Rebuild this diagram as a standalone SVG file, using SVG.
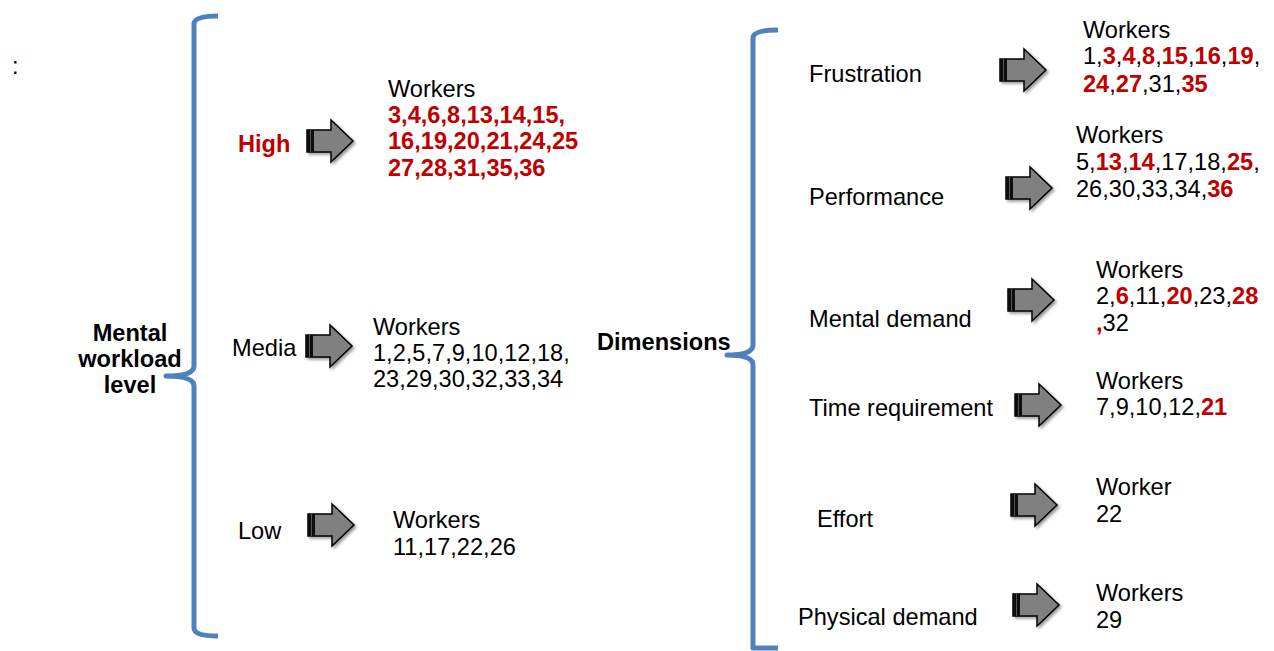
<svg xmlns="http://www.w3.org/2000/svg" width="1274" height="651" viewBox="0 0 1274 651">
<defs>
<style>
text{font-family:"Liberation Sans",Arial,sans-serif;font-size:23.6px;fill:#000}
.b{font-weight:bold}
.r{fill:#c00000;font-weight:bold}
.br{fill:none;stroke:#4f81bd;stroke-width:5;stroke-linejoin:round}
</style>
<filter id="sh" x="-20%" y="-20%" width="150%" height="150%">
<feGaussianBlur in="SourceAlpha" stdDeviation="1.5"/>
<feOffset dx="2" dy="2" result="o"/>
<feComponentTransfer><feFuncA type="linear" slope="0.4"/></feComponentTransfer>
<feMerge><feMergeNode/><feMergeNode in="SourceGraphic"/></feMerge>
</filter>
<g id="arr" filter="url(#sh)">
<path d="M0,-11 L24,-11 L24,-21 L46,0 L24,21 L24,11 L0,11 Z" fill="#808080" stroke="#000" stroke-width="1.5" stroke-linejoin="miter"/>
<rect x="0" y="-11" width="7" height="22" fill="#111"/>
<line x1="3.5" y1="-11" x2="3.5" y2="11" stroke="#555" stroke-width="1"/>
</g>
</defs>
<rect width="1274" height="651" fill="#fff"/>
<text x="12" y="74">:</text>

<g id="connectors">
<use href="#arr" x="307" y="141"/>
<use href="#arr" x="306" y="346"/>
<use href="#arr" x="308" y="525"/>
<use href="#arr" x="1000" y="70"/>
<use href="#arr" x="1006" y="188"/>
<use href="#arr" x="1008" y="300"/>
<use href="#arr" x="1015" y="405"/>
<use href="#arr" x="1011" y="505"/>
<use href="#arr" x="1013" y="605"/>
</g>

<g id="bracket-left">
<path class="br" d="M218,16 Q194,16 194,24 L194,366 Q194,376 166,376 Q194,376 194,386 L194,628 Q194,636 218,636"/>
</g>
<g id="bracket-right">
<path class="br" d="M778,30 Q753,30 753,38 L753,345 Q753,355 727,355 Q753,355 753,365 L753,648 L778,648"/>
</g>

<g id="mental-workload-level">
<text class="b" x="130" y="341" text-anchor="middle">Mental</text>
<text class="b" x="130" y="367" text-anchor="middle">workload</text>
<text class="b" x="130" y="393" text-anchor="middle">level</text>
</g>

<g id="high">
<text class="r" x="238" y="152">High</text>
<text x="388" y="97">Workers</text>
<text class="r" x="388" y="123">3,4,6,8,13,14,15,</text>
<text class="r" x="388" y="149">16,19,20,21,24,25</text>
<text class="r" x="388" y="176">27,28,31,35,36</text>
</g>

<g id="media">
<text x="232" y="356">Media</text>
<text x="373" y="335">Workers</text>
<text x="373" y="361">1,2,5,7,9,10,12,18,</text>
<text x="373" y="387">23,29,30,32,33,34</text>
</g>

<g id="low">
<text x="238" y="539">Low</text>
<text x="393" y="528">Workers</text>
<text x="393" y="555">11,17,22,26</text>
</g>

<g id="dimensions">
<text class="b" x="597" y="350">Dimensions</text>
</g>

<g id="frustration">
<text x="809" y="82">Frustration</text>
<text x="1083" y="38">Workers</text>
<text x="1083" y="64">1,<tspan class="r">3</tspan>,<tspan class="r">4</tspan>,<tspan class="r">8</tspan>,<tspan class="r">15</tspan>,<tspan class="r">16</tspan>,<tspan class="r">19</tspan>,</text>
<text x="1083" y="92"><tspan class="r">24</tspan>,<tspan class="r">27</tspan>,31,<tspan class="r">35</tspan></text>
</g>

<g id="performance">
<text x="809" y="205">Performance</text>
<text x="1076" y="143">Workers</text>
<text x="1076" y="170">5,<tspan class="r">13</tspan>,<tspan class="r">14</tspan>,17,18,<tspan class="r">25</tspan>,</text>
<text x="1076" y="197">26,30,33,34,<tspan class="r">36</tspan></text>
</g>

<g id="mental-demand">
<text x="809" y="327">Mental demand</text>
<text x="1096" y="278">Workers</text>
<text x="1096" y="304">2,<tspan class="r">6</tspan>,11,<tspan class="r">20</tspan>,23,<tspan class="r">28</tspan></text>
<text x="1096" y="331"><tspan class="r">,</tspan>32</text>
</g>

<g id="time-requirement">
<text x="809" y="416">Time requirement</text>
<text x="1096" y="389">Workers</text>
<text x="1096" y="415">7,9,10,12,<tspan class="r">21</tspan></text>
</g>

<g id="effort">
<text x="817" y="527">Effort</text>
<text x="1096" y="495">Worker</text>
<text x="1096" y="522">22</text>
</g>

<g id="physical-demand">
<text x="798" y="625">Physical demand</text>
<text x="1096" y="601">Workers</text>
<text x="1096" y="628">29</text>
</g>
</svg>
